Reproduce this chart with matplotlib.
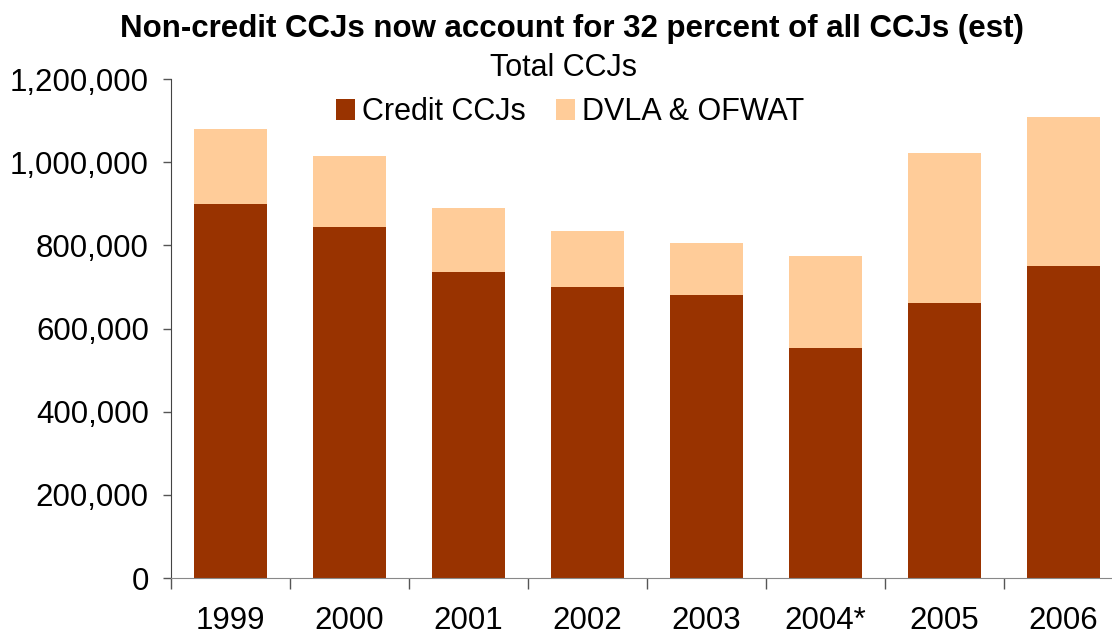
import numpy as np
import matplotlib.pyplot as plt

# dados
anos = ['1999', '2000', '2001', '2002', '2003', '2004*', '2005', '2006']
credit_ccjs = [900000, 845000, 735000, 700000, 680000, 553000, 662000, 750000]
dvla_ofwat = [180000, 170000, 155000, 135000, 125000, 222000, 360000, 358000]

cor_credit = '#993300'
cor_dvla = '#FFCC99'

plt.rcParams['font.family'] = ['Liberation Sans', 'DejaVu Sans']

fig = plt.figure(figsize=(11.12, 6.34), dpi=100)
ax = fig.add_axes([0.1538, 0.0883, 0.856, 0.787])

x = np.arange(len(anos))
ax.bar(x, credit_ccjs, width=0.61, color=cor_credit, label='Credit CCJs')
ax.bar(x, dvla_ofwat, width=0.61, bottom=credit_ccjs, color=cor_dvla,
       label='DVLA & OFWAT')

ax.set_xlim(-0.5, len(anos) - 0.5)
ax.set_ylim(0, 1200000)
ax.set_yticks(np.arange(0, 1200001, 200000))
ax.set_yticklabels([f'{v:,}' for v in range(0, 1200001, 200000)])
ax.tick_params(axis='y', labelsize=22.5, length=6, width=1, pad=10, color='#555555')

ax.set_xticks(x)
ax.set_xticklabels(anos)
ax.set_xticks(np.arange(-0.5, len(anos)), minor=True)
ax.tick_params(axis='x', which='major', labelsize=22.5, length=0, pad=20)
ax.tick_params(axis='x', which='minor', length=8, width=1, color='#555555')

for lado in ['top', 'right']:
    ax.spines[lado].set_visible(False)
ax.spines['left'].set_color('#444444')
ax.spines['bottom'].set_color('#888888')

leg = ax.legend(ncol=2, frameon=False, loc='center', bbox_to_anchor=(0.513, 0.823),
                bbox_transform=fig.transFigure, fontsize=22,
                handlelength=0.6, handleheight=0.65, handletextpad=0.25,
                columnspacing=1.0, borderpad=0)

fig.text(0.507, 0.893, 'Total CCJs', ha='center', va='center', fontsize=22)

fig.text(0.514, 0.954, 'Non-credit CCJs now account for 32 percent of all CCJs (est)',
         ha='center', va='center', fontsize=22.5, fontweight='bold')

fig.savefig('out.png', dpi=100)
